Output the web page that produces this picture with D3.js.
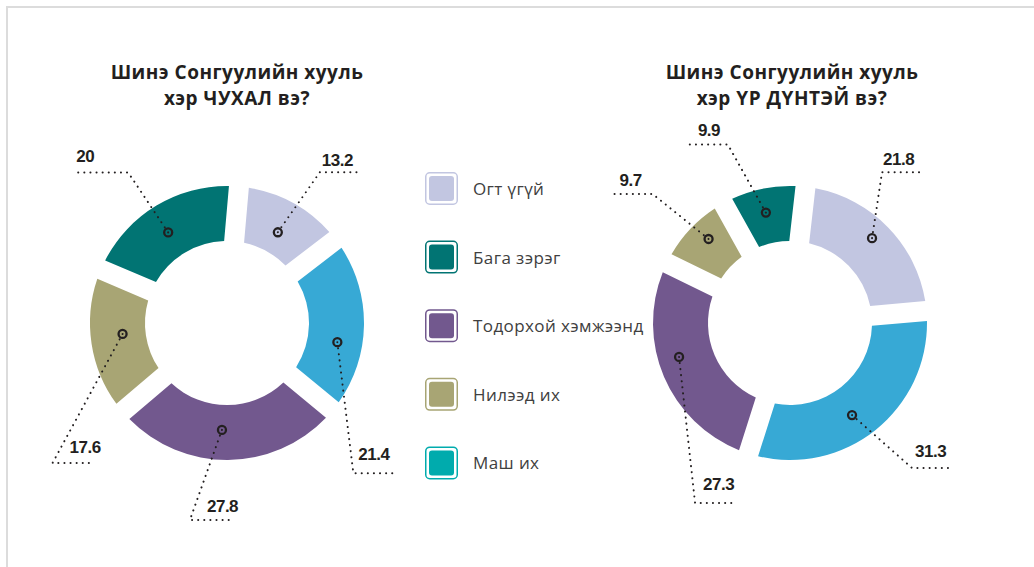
<!DOCTYPE html>
<html>
<head>
<meta charset="utf-8">
<script src="https://d3js.org/d3.v7.min.js"></script>
<style>
  body { margin: 0; background: #fff; }
  svg { display: block; }
  .title { font-family: "Open Sans", sans-serif; font-weight: 700; font-size: 19px; fill: #231f20; letter-spacing: 0.5px; }
  .legend-text { font-family: "Open Sans", sans-serif; font-size: 17px; fill: #404040; letter-spacing: 0.4px; }
  .value { font-family: "Liberation Sans", Arial, sans-serif; font-weight: 700; font-size: 17px; fill: #231f20; letter-spacing: -0.5px; }
</style>
</head>
<body>
<div id="chart"></div>
<script>
// legend categories (legend order) and colours
var categories = ["Огт үгүй", "Бага зэрэг", "Тодорхой хэмжээнд", "Нилээд их", "Маш их"];
var legendColors = ["#c2c6e1", "#017473", "#72588e", "#a8a574", "#00abad"];

// order of the slices, clockwise from the top
var sliceOrder = ["Огт үгүй", "Маш их", "Тодорхой хэмжээнд", "Нилээд их", "Бага зэрэг"];
var sliceColors = ["#c2c6e1", "#37a9d5", "#72588e", "#a8a574", "#017473"];

// values (%) in slice order
var importantValues = [13.2, 21.4, 27.8, 17.6, 20];
var effectiveValues = [21.8, 31.3, 27.3, 9.7, 9.9];

var titles = [
  ["Шинэ Сонгуулийн хууль", "хэр ЧУХАЛ вэ?"],
  ["Шинэ Сонгуулийн хууль", "хэр ҮР ДҮНТЭЙ вэ?"]
];

var width = 1034, height = 567;
var innerR = 82, outerR = 137, gap = 20;

// leader layout per slice: marker angle nudge (deg) / radius, elbow offset, shelf length, text offset
var leftLayout = [
  { nudge: 0.5, r: 104, ex: 42, ey: -60, shelf: 38, tx: 2, ty: -6 },
  { nudge: 8.8, r: 112, ex: 16, ey: 131, shelf: 39, tx: 5, ty: -13 },
  { nudge: 3.1, r: 107, ex: -32, ey: 90, shelf: 43, tx: 17, ty: -8 },
  { nudge: 2.7, r: 105, ex: -70, ey: 129, shelf: 40, tx: 17, ty: -10 },
  { nudge: -2, r: 108, ex: -40, ey: -60, shelf: -55, tx: -52, ty: -10 }
];
var rightLayout = [
  { nudge: -1.7, r: 118, ex: 10, ey: -66, shelf: 43, tx: 1, ty: -7 },
  { nudge: 4.7, r: 111, ex: 60, ey: 53, shelf: 36, tx: 3, ty: -11 },
  { nudge: 6.2, r: 116, ex: 16, ey: 146, shelf: 40, tx: 8, ty: -13 },
  { nudge: 2.5, r: 117, ex: -56, ey: -45, shelf: -40, tx: -33, ty: -8 },
  { nudge: -1, r: 113, ex: -38, ey: -68, shelf: -41, tx: -30, ty: -9 }
];

var svg = d3.select("#chart").append("svg")
  .attr("width", width)
  .attr("height", height);

// frame lines
svg.append("path")
  .attr("d", "M7," + height + "V7H" + width)
  .attr("fill", "none")
  .attr("stroke", "#dcdcdc")
  .attr("stroke-width", 2);

var arc = d3.arc()
  .innerRadius(innerR)
  .outerRadius(outerR)
  .padRadius(outerR)
  .padAngle(gap / outerR);

function drawDonut(cx, cy, values, layout, rotation, title, titleX) {
  var g = svg.append("g").attr("transform", "translate(" + cx + "," + cy + ")");
  var start = rotation * Math.PI / 180;
  var pie = d3.pie().sort(null).startAngle(start).endAngle(start + 2 * Math.PI);
  var arcs = pie(values);

  g.selectAll("path.slice")
    .data(arcs)
    .enter().append("path")
    .attr("class", "slice")
    .attr("d", arc)
    .attr("fill", function(d, i) { return sliceColors[i]; });

  arcs.forEach(function(d, i) {
    var L = layout[i];
    var a = (d.startAngle + d.endAngle) / 2 + L.nudge * Math.PI / 180;
    var mx = L.r * Math.sin(a), my = -L.r * Math.cos(a);
    var ex = mx + L.ex, ey = my + L.ey;
    g.append("path")
      .attr("d", "M" + mx + "," + my + "L" + ex + "," + ey + "H" + (ex + L.shelf))
      .attr("fill", "none")
      .attr("stroke", "#231f20")
      .attr("stroke-width", 2)
      .attr("stroke-linecap", "round")
      .attr("stroke-dasharray", "0.1,6");
    g.append("circle")
      .attr("cx", mx).attr("cy", my).attr("r", 4)
      .attr("fill", "none")
      .attr("stroke", "#231f20")
      .attr("stroke-width", 2.3);
    g.append("text")
      .attr("class", "value")
      .attr("x", ex + L.tx)
      .attr("y", ey + L.ty)
      .text(d.data);
  });

  // two title lines, kept as separate texts so they do not collide
  svg.selectAll(null).data(title).enter().append("text")
    .attr("class", "title")
    .attr("text-anchor", "middle")
    .attr("x", titleX)
    .attr("y", function(d, i) { return 79 + i * 26; })
    .text(function(d) { return d; });
}

drawDonut(227, 323, importantValues, leftLayout, 5, titles[0], 237);
drawDonut(790, 323, effectiveValues, rightLayout, 6.5, titles[1], 792);

// legend
var legend = svg.append("g").attr("transform", "translate(425,172)");
var item = legend.selectAll("g")
  .data(categories)
  .enter().append("g")
  .attr("transform", function(d, i) { return "translate(0," + i * 68.6 + ")"; });
item.append("rect")
  .attr("x", 0.75).attr("y", 0.75)
  .attr("width", 31.5).attr("height", 31.5)
  .attr("rx", 4)
  .attr("fill", "#fff")
  .attr("stroke", function(d, i) { return legendColors[i]; })
  .attr("stroke-width", 1.5);
item.append("rect")
  .attr("x", 4).attr("y", 4)
  .attr("width", 25).attr("height", 25)
  .attr("rx", 3)
  .attr("fill", function(d, i) { return legendColors[i]; });
item.append("text")
  .attr("class", "legend-text")
  .attr("x", 48)
  .attr("y", 23)
  .text(function(d) { return d; });
</script>
</body>
</html>
